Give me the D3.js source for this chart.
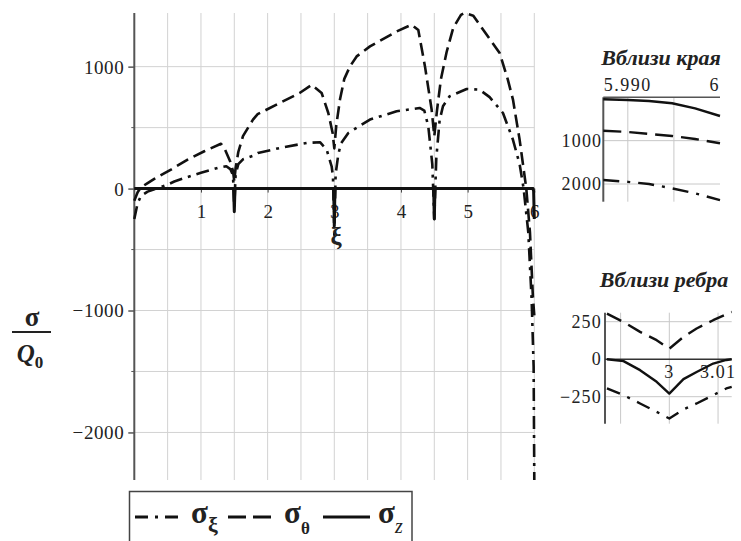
<!DOCTYPE html>
<html><head><meta charset="utf-8">
<script src="https://cdn.jsdelivr.net/npm/d3@7"></script>
<style>body{margin:0;background:#fff}svg{display:block}text{font-family:"Liberation Serif","Times New Roman",serif;fill:#222}</style>
</head><body><svg id="c" width="741" height="541"></svg>
<script>
// ---- main chart data ----
const xiTheta = [0,0.05,0.1,0.2,0.3,0.55,0.8,1.05,1.3,1.36,1.44,1.48,1.5,1.52,1.56,1.63,1.78,1.85,2.18,2.48,2.66,2.81,2.91,2.975,3.0,3.03,3.085,3.15,3.235,3.335,3.535,3.935,4.16,4.26,4.36,4.46,4.5,4.54,4.6,4.685,4.785,4.9,4.95,5.085,5.23,5.48,5.6,5.68,5.78,5.88,5.935,5.98,6.0];
const sigmaTheta = [-100,-30,10,45,80,156,238,306,368,320,220,145,60,170,300,430,565,610,702,784,850,784,620,456,330,520,730,900,1002,1084,1166,1289,1344,1300,1002,648,430,640,900,1120,1320,1425,1440,1418,1305,1112,900,730,400,0,-360,-900,-1040];

const xiXi = [0,0.05,0.1,0.2,0.3,0.4,0.5,0.6,0.8,1.0,1.25,1.38,1.44,1.48,1.5,1.52,1.56,1.63,1.785,1.855,2.185,2.585,2.785,2.885,2.96,2.98,3.0,3.02,3.06,3.1,3.21,3.535,3.935,4.28,4.35,4.41,4.47,4.5,4.53,4.58,4.63,4.73,4.985,5.18,5.33,5.53,5.68,5.78,5.84,5.91,5.96,5.99,6.0];
const sigmaXi = [-250,-120,-60,-25,-5,14,33,58,95,130,170,183,160,110,-150,120,200,240,270,292,333,374,380,320,183,100,-380,120,280,370,456,566,634,661,640,510,200,-250,250,560,675,757,817,811,750,620,400,200,0,-360,-910,-1460,-2390];

const xiZ = [0,1.49,1.5,1.51,2.99,3.0,3.01,4.49,4.5,4.51,5.98,5.99,6.0];
const sigmaZ = [0,0,-190,0,0,-280,0,0,-250,0,0,-20,-250];

const xTicks = [1,2,3,4,5,6];
const yTicks = [-2000,-1000,0,1000];

// ---- inset "near edge" data ----
const xiEdge = [5.98734,5.99,5.9923,5.9948,5.9973,6.0];
const edgeZ = [-46,-62,-85,-138,-254,-431];
const edgeTheta = [-770,-800,-846,-892,-962,-1061];
const edgeXi = [-1908,-1950,-2000,-2100,-2215,-2370];
const edgeXTicks = [5.990,6];
const edgeYTicks = [-1000,-2000];

// ---- inset "near rib" data ----
const xiRib = [2.9872,2.9906,2.994,2.9974,3.0,3.0029,3.0056,3.009,3.0117,3.0128];
const ribTheta = [304,248,182,127,70,149,205,260,300,315];
const ribZ = [0,-13,-73,-151,-229,-133,-85,-29,-5,0];
const ribXi = [-195,-240,-295,-351,-395,-335,-295,-240,-195,-185];
const ribXTicks = [3,3.01];
const ribYTicks = [250,0,-250];

const FONT = "Liberation Serif";
const svg = d3.select("#c");
const DASH = "13,6", DASHDOT = "13,6,3,6";

function drawSeries(g, xs, ys, xsc, ysc, dash, w){
  const pts = xs.map((d,i)=>[d,ys[i]]);
  g.append("path").datum(pts)
    .attr("d", d3.line().x(d=>xsc(d[0])).y(d=>ysc(d[1])))
    .attr("fill","none").attr("stroke","#111").attr("stroke-width",w)
    .attr("stroke-dasharray", dash||null).attr("stroke-linejoin","round");
}

// ---- main plot ----
const x = d3.scaleLinear([0,6],[134.3,534.3]);
const y = d3.scaleLinear([-2390,1440],[480,13]);
const gm = svg.append("g");
svg.append("clipPath").attr("id","cm").append("rect")
  .attr("x",120).attr("y",0).attr("width",425).attr("height",480);

gm.append("g").selectAll("line").data(d3.range(0.5,6.01,0.5)).join("line")
  .attr("x1",d=>x(d)).attr("x2",d=>x(d)).attr("y1",y(1440)).attr("y2",y(-2390))
  .attr("stroke","#d2d2d2").attr("stroke-width",1);
gm.append("g").selectAll("line").data(d3.range(-2000,1001,500)).join("line")
  .attr("x1",x(0)).attr("x2",x(6)).attr("y1",d=>y(d)).attr("y2",d=>y(d))
  .attr("stroke","#d2d2d2").attr("stroke-width",1);

// y axis
const yAx = gm.append("g").attr("transform",`translate(${x(0)},0)`)
  .call(d3.axisLeft(y).tickValues(yTicks).tickSize(6).tickPadding(4)
    .tickFormat(d=>d<0?"\u2212"+Math.abs(d):String(d)))
  .attr("font-family",FONT);
yAx.select(".domain").attr("stroke","#555").attr("stroke-width",2).attr("d",`M0,${y(1440)}V${y(-2390)}`);
yAx.selectAll(".tick line").attr("stroke","#555").attr("stroke-width",1.5);
yAx.selectAll(".tick text").attr("font-size",19).attr("fill","#222").attr("dy","0.34em")
  .attr("letter-spacing",0.6).attr("font-family",FONT);
gm.append("g").selectAll("line").data([-1500,-500,500]).join("line")
  .attr("x1",x(0)-3).attr("x2",x(0)).attr("y1",d=>y(d)).attr("y2",d=>y(d)).attr("stroke","#555");

// x axis
const xAx = gm.append("g").attr("transform",`translate(0,${y(0)})`)
  .call(d3.axisBottom(x).tickValues(xTicks).tickSize(4).tickPadding(12).tickFormat(d3.format("d")))
  .attr("font-family",FONT);
xAx.select(".domain").attr("stroke","#333").attr("stroke-width",2).attr("d",`M${x(0)},0H${x(6)}`);
xAx.selectAll(".tick line").attr("stroke","#444");
xAx.selectAll(".tick text").attr("font-size",19).attr("fill","#222").attr("font-family",FONT);

const gc = svg.append("g").attr("clip-path","url(#cm)");
drawSeries(gc, xiZ, sigmaZ, x, y, null, 3);
drawSeries(gc, xiTheta, sigmaTheta, x, y, DASH, 2.6);
drawSeries(gc, xiXi, sigmaXi, x, y, DASHDOT, 2.6);

svg.append("text").attr("x",336).attr("y",245).attr("text-anchor","middle")
  .attr("font-size",25).attr("font-weight","bold").text("ξ");

// y label
svg.append("text").attr("x",32).attr("y",326).attr("text-anchor","middle")
  .attr("font-size",27).attr("font-weight","bold").text("σ");
svg.append("line").attr("x1",12).attr("x2",51).attr("y1",332).attr("y2",332).attr("stroke","#222").attr("stroke-width",2);
const q = svg.append("text").attr("x",30).attr("y",362).attr("text-anchor","middle")
  .attr("font-size",25).attr("font-weight","bold").attr("font-style","italic");
q.append("tspan").text("Q");
q.append("tspan").attr("font-size",17).attr("font-style","normal").attr("dy",6).text("0");

// ---- legend ----
const lg = svg.append("g");
lg.append("rect").attr("x",129.5).attr("y",491.5).attr("width",282.5).attr("height",70)
  .attr("fill","#fff").attr("stroke","#444").attr("stroke-width",1.5);
const legItems = [
  {x1:135,x2:182,dash:"13,7,3,7",sx:191,sub:"ξ",subSize:22,subDy:9,italic:false},
  {x1:228,x2:274,dash:"18,7",sx:284,sub:"θ",subSize:17,subDy:11,italic:false},
  {x1:323,x2:370,dash:null,sx:378,sub:"z",subSize:20,subDy:10,italic:true}
];
legItems.forEach(it=>{
  lg.append("line").attr("x1",it.x1).attr("x2",it.x2).attr("y1",517).attr("y2",517)
    .attr("stroke","#111").attr("stroke-width",3).attr("stroke-dasharray",it.dash);
  const t = lg.append("text").attr("x",it.sx).attr("y",523).attr("font-size",31).attr("font-weight","bold");
  t.append("tspan").text("σ");
  t.append("tspan").attr("font-size",it.subSize).attr("dy",it.subDy)
    .attr("font-style",it.italic?"italic":"normal").attr("font-weight",it.italic?"normal":"bold").text(it.sub);
});

// ---- inset: near edge ----
const xe = d3.scaleLinear([5.98734,6.0],[603.3,720]);
const ye = d3.scaleLinear([-2408,0],[201.7,97.3]);
const ge = svg.append("g");
ge.append("g").selectAll("line").data([5.990,5.995]).join("line")
  .attr("x1",d=>xe(d)).attr("x2",d=>xe(d)).attr("y1",ye(0)).attr("y2",ye(-2408))
  .attr("stroke","#c8c8c8");
ge.append("g").selectAll("line").data(edgeYTicks).join("line")
  .attr("x1",xe(5.98734)).attr("x2",xe(6)).attr("y1",d=>ye(d)).attr("y2",d=>ye(d))
  .attr("stroke","#c8c8c8");
ge.append("line").attr("x1",xe(5.98734)).attr("x2",xe(5.98734)).attr("y1",ye(0)).attr("y2",ye(-2408)).attr("stroke","#555").attr("stroke-width",2);
ge.append("line").attr("x1",xe(5.98734)).attr("x2",xe(6)).attr("y1",ye(0)).attr("y2",ye(0)).attr("stroke","#555").attr("stroke-width",1.5);
ge.selectAll("text.xt").data(edgeXTicks).join("text").attr("class","xt")
  .attr("x",d=>xe(d)).attr("y",91).attr("text-anchor",d=>d===6?"end":"middle")
  .attr("font-size",18).attr("letter-spacing",1.5).text(d=>d===6?"6":d.toFixed(3));
ge.selectAll("text.yt").data(edgeYTicks).join("text").attr("class","yt")
  .attr("x",xe(5.98734)-1).attr("y",d=>ye(d)+6).attr("text-anchor","end")
  .attr("font-size",18).attr("letter-spacing",1.2).text(d=>Math.abs(d));
drawSeries(ge, xiEdge, edgeZ, xe, ye, null, 2.4);
drawSeries(ge, xiEdge, edgeTheta, xe, ye, "18,8", 2.4);
drawSeries(ge, xiEdge, edgeXi, xe, ye, "16,8,3,8", 2.4);
svg.append("text").attr("x",661).attr("y",65).attr("text-anchor","middle")
  .attr("font-size",22).attr("font-weight","bold").attr("font-style","italic").text("Вблизи края");

// ---- inset: near rib ----
const xr = d3.scaleLinear([2.9868,3.0128],[605,731.7]);
const yr = d3.scaleLinear([-430,310],[423.7,312.7]);
const gr = svg.append("g");
gr.append("g").selectAll("line").data([2.99,3.0,3.01]).join("line")
  .attr("x1",d=>xr(d)).attr("x2",d=>xr(d)).attr("y1",yr(310)).attr("y2",yr(-430))
  .attr("stroke","#c8c8c8");
gr.append("g").selectAll("line").data([250,-250]).join("line")
  .attr("x1",xr(2.9868)).attr("x2",xr(3.0128)).attr("y1",d=>yr(d)).attr("y2",d=>yr(d))
  .attr("stroke","#c8c8c8");
gr.append("line").attr("x1",xr(2.9868)).attr("x2",xr(2.9868)).attr("y1",yr(310)).attr("y2",yr(-430)).attr("stroke","#555").attr("stroke-width",2);
gr.append("line").attr("x1",xr(2.9868)).attr("x2",xr(3.0128)).attr("y1",yr(0)).attr("y2",yr(0)).attr("stroke","#333").attr("stroke-width",1.5);
gr.selectAll("text.xt").data(ribXTicks).join("text").attr("class","xt")
  .attr("x",d=>xr(d)).attr("y",yr(0)+19).attr("text-anchor","middle")
  .attr("font-size",18).attr("letter-spacing",1.2).text(d=>d===3?"3":"3.01");
gr.selectAll("text.yt").data(ribYTicks).join("text").attr("class","yt")
  .attr("x",xr(2.9868)-3).attr("y",d=>yr(d)+6).attr("text-anchor","end")
  .attr("font-size",18).attr("letter-spacing",1.2).text(d=>d<0?"\u2212"+Math.abs(d):d);
drawSeries(gr, xiRib, ribZ, xr, yr, null, 2.4);
drawSeries(gr, xiRib, ribTheta, xr, yr, "16,8", 2.4);
drawSeries(gr, xiRib, ribXi, xr, yr, "14,8,3,8", 2.4);
svg.append("text").attr("x",664).attr("y",287).attr("text-anchor","middle")
  .attr("font-size",22).attr("font-weight","bold").attr("font-style","italic").text("Вблизи ребра");
</script></body></html>
